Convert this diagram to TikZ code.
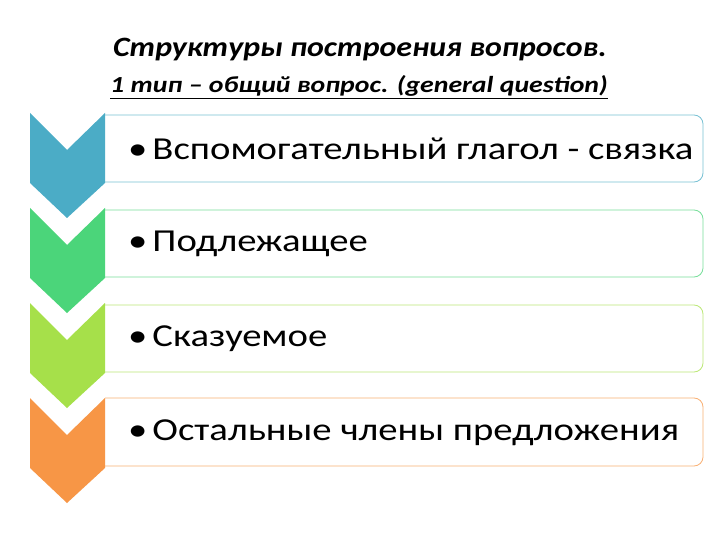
\documentclass[tikz,border=0pt]{standalone}
\usepackage{fontspec}
\setmainfont{Carlito}[FakeStretch=1.21]
\newfontfamily\titlefont{Carlito}[FakeStretch=1.14]
\definecolor{stepblue}{RGB}{75,172,198}
\definecolor{stepgreen}{RGB}{75,213,122}
\definecolor{steplime}{RGB}{166,224,74}
\definecolor{steporange}{RGB}{247,150,70}
\begin{document}
\begin{tikzpicture}[x=1pt,y=-1pt,
    chevron/.style={draw=none},
    itembox/.style={rounded corners=9pt, fill=white, line width=0.8pt},
    itemtext/.style={anchor=west, font=\fontsize{32}{38}\selectfont, inner sep=0pt},
    heading/.style={font=\titlefont\fontsize{28}{34}\selectfont\bfseries\itshape, inner sep=0pt}]
  \useasboundingbox (0,0) rectangle (720,540);
  \fill[white] (0,0) rectangle (720,540);
  \node[heading] (title) at (360,50) {Структуры построения вопросов.};
  \node[heading, font=\fontsize{23}{27}\selectfont\bfseries\itshape] (subtitle) at (359,87)
    {\underline{1 тип – общий вопрос. (general question)}};
  \begin{scope}
    \filldraw[itembox, draw=stepblue!75] (105,115) -- (703,115) -- (703,182) -- (105,182);
    \filldraw[itembox, draw=stepgreen!75] (105,210) -- (703,210) -- (703,277) -- (105,277);
    \filldraw[itembox, draw=steplime!75] (105,305) -- (703,305) -- (703,372) -- (105,372);
    \filldraw[itembox, draw=steporange!75] (105,398) -- (703,398) -- (703,466) -- (105,466);
  \end{scope}
  \begin{scope}[chevron]
    \fill[stepblue] (30,113) -- (67,150) -- (105,113) -- (105,183) -- (67,218) -- (30,183) -- cycle;
    \fill[stepgreen] (30,208) -- (67,245) -- (105,208) -- (105,278) -- (67,313) -- (30,278) -- cycle;
    \fill[steplime] (30,303) -- (67,340) -- (105,303) -- (105,373) -- (67,408) -- (30,373) -- cycle;
    \fill[steporange] (30,398) -- (67,435) -- (105,398) -- (105,468) -- (67,503) -- (30,468) -- cycle;
  \end{scope}
  \begin{scope}[every node/.style={itemtext}]
    \node (verb) at (128,149) {•\hspace{5pt}Вспомогательный глагол - связка};
    \node (subject) at (128,244) {•\hspace{5pt}Подлежащее};
    \node (predicate) at (128,339) {•\hspace{5pt}Сказуемое};
    \node (others) at (128,433) {•\hspace{5pt}Остальные члены предложения};
  \end{scope}
\end{tikzpicture}
\end{document}
